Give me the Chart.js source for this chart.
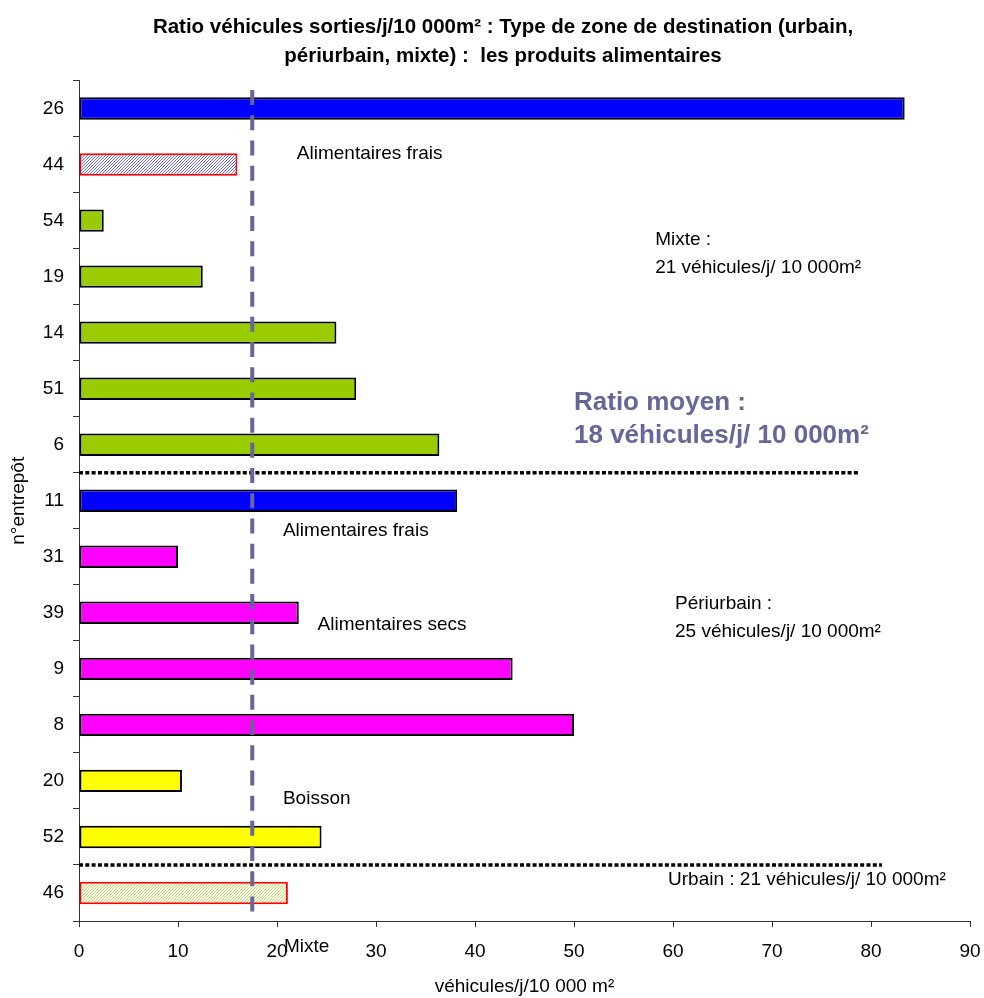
<!DOCTYPE html>
<html lang="fr">
<head>
<meta charset="utf-8">
<title>Ratio véhicules sorties/j/10 000m²</title>
<script src="https://cdn.jsdelivr.net/npm/chart.js@4"></script>
<style>
  html, body { margin: 0; padding: 0; background: #fff; }
  canvas { display: block; }
</style>
</head>
<body>
<canvas id="c" width="984" height="998"></canvas>
<script>
// Entrepôts (n°), de haut en bas
const entrepots = ['26', '44', '54', '19', '14', '51', '6', '11', '31', '39', '9', '8', '20', '52', '46'];
// Véhicules sortis par jour pour 10 000 m²
const ratios = [83.4, 16.0, 2.5, 12.5, 26.0, 28.0, 36.4, 38.2, 10.0, 22.2, 43.8, 50.0, 10.4, 24.5, 21.1];
// Famille de produits de chaque entrepôt
const familles = ['frais', 'fraisMixte', 'secs', 'secs', 'secs', 'secs', 'secs',
                  'frais', 'secsPeri', 'secsPeri', 'secsPeri', 'secsPeri',
                  'boisson', 'boisson', 'mixte'];
// Ratio moyen tous entrepôts
const ratioMoyen = 17.5;

const titre = ['Ratio véhicules sorties/j/10 000m² : Type de zone de destination (urbain,',
               'périurbain, mixte) :  les produits alimentaires'];

const ctx = document.getElementById('c').getContext('2d');
Chart.defaults.font.family = "'Liberation Sans', Arial, sans-serif";

// Hachures fines en diagonale
function hachure(trait, fond) {
  const t = document.createElement('canvas');
  t.width = t.height = 3;
  const g = t.getContext('2d');
  g.fillStyle = fond;
  g.fillRect(0, 0, 3, 3);
  g.strokeStyle = trait;
  g.lineWidth = 1;
  g.beginPath();
  g.moveTo(-1, 4); g.lineTo(4, -1);
  g.moveTo(-1, 1); g.lineTo(1, -1);
  g.moveTo(2, 4); g.lineTo(4, 2);
  g.stroke();
  return ctx.createPattern(t, 'repeat');
}

const styles = {
  frais:      { fond: '#0000FF', bord: '#000000' },
  fraisMixte: { fond: hachure('#6a6aff', '#ffffff'), bord: '#FF0000' },
  secs:       { fond: '#99CC00', bord: '#000000' },
  secsPeri:   { fond: '#FF00FF', bord: '#000000' },
  boisson:    { fond: '#FFFF00', bord: '#000000' },
  mixte:      { fond: hachure('#bddc5c', '#ffffff'), bord: '#FF0000' }
};

// Textes libres placés en unités d'axe (x) et d'indice de catégorie (y)
const notes = [
  { text: 'Alimentaires frais', x: 22.0, y: 0.81 },
  { text: 'Mixte :', x: 58.2, y: 2.35 },
  { text: '21 véhicules/j/ 10 000m²', x: 58.2, y: 2.85 },
  { text: 'Alimentaires frais', x: 20.6, y: 7.53 },
  { text: 'Périurbain :', x: 60.2, y: 8.83 },
  { text: 'Alimentaires secs', x: 24.1, y: 9.21 },
  { text: '25 véhicules/j/ 10 000m²', x: 60.2, y: 9.33 },
  { text: 'Boisson', x: 20.6, y: 12.32 },
  { text: 'Urbain : 21 véhicules/j/ 10 000m²', x: 59.5, y: 13.77 },
  { text: 'Mixte', x: 20.7, y: 14.96 }
];
const separations = [ { y: 6.5, xFin: 78.9 }, { y: 13.5, xFin: 81.1 } ];

// Titre du graphique, centré un peu à droite du milieu de la page
const enTete = {
  id: 'enTete',
  afterDraw(chart) {
    const c = chart.ctx;
    c.save();
    c.fillStyle = '#000';
    c.textAlign = 'center';
    c.textBaseline = 'middle';
    c.font = "bold 20.5px 'Liberation Sans', Arial, sans-serif";
    titre.forEach((ligne, i) => c.fillText(ligne, 503, 27 + i * 29));
    c.restore();
  }
};

const surcouche = {
  id: 'surcouche',
  afterDatasetsDraw(chart) {
    const { ctx: c, scales: { x, y } } = chart;
    c.save();

    // séparations entre zones
    c.strokeStyle = '#000';
    c.lineWidth = 3.5;
    c.setLineDash([4, 2.3]);
    separations.forEach(s => {
      const py = y.getPixelForValue(s.y);
      c.beginPath();
      c.moveTo(x.getPixelForValue(0), py);
      c.lineTo(x.getPixelForValue(s.xFin), py);
      c.stroke();
    });

    // ratio moyen
    const px = x.getPixelForValue(ratioMoyen);
    c.strokeStyle = '#666699';
    c.lineWidth = 4;
    c.setLineDash([15, 10.2]);
    c.beginPath();
    c.moveTo(px, y.getPixelForValue(-0.33));
    c.lineTo(px, y.getPixelForValue(14.5));
    c.stroke();
    c.setLineDash([]);

    // textes
    c.textAlign = 'left';
    c.textBaseline = 'middle';
    c.fillStyle = '#000';
    c.font = "19px 'Liberation Sans', Arial, sans-serif";
    notes.forEach(n => c.fillText(n.text, x.getPixelForValue(n.x), y.getPixelForValue(n.y)));

    c.fillStyle = '#666699';
    c.font = "bold 26px 'Liberation Sans', Arial, sans-serif";
    c.fillText('Ratio moyen :', x.getPixelForValue(50.0), y.getPixelForValue(5.25));
    c.fillText(Math.round(ratioMoyen) + ' véhicules/j/ 10 000m²', x.getPixelForValue(50.0), y.getPixelForValue(5.84));
    c.restore();
  }
};

new Chart(ctx, {
  type: 'bar',
  data: {
    labels: entrepots,
    datasets: [{
      data: ratios,
      backgroundColor: familles.map(f => styles[f].fond),
      borderColor: familles.map(f => styles[f].bord),
      borderWidth: 2,
      borderSkipped: false,
      barPercentage: 0.4,
      categoryPercentage: 1.0
    }]
  },
  options: {
    indexAxis: 'y',
    responsive: false,
    animation: false,
    events: [],
    layout: { padding: { left: 0, right: 14, top: 80.5, bottom: 0 } },
    plugins: {
      legend: { display: false },
      tooltip: { enabled: false },
      title: { display: false }
    },
    scales: {
      x: {
        min: 0,
        max: 90,
        ticks: { stepSize: 10, color: '#000', font: { size: 19 }, padding: 13 },
        grid: { drawOnChartArea: false, tickLength: 6, color: '#333' },
        border: { color: '#333', width: 1 },
        title: { display: true, text: 'véhicules/j/10 000 m²', color: '#000', font: { size: 19 }, padding: { top: 0, bottom: 0 } },
        afterFit(s) { s.height = 77; s.paddingLeft = 0; s.paddingRight = 0; }
      },
      y: {
        ticks: { color: '#000', font: { size: 19 }, padding: 9 },
        grid: { drawOnChartArea: false, tickLength: 6, color: '#333', offset: true },
        border: { color: '#333', width: 1 },
        title: { display: true, text: 'n°entrepôt', color: '#000', font: { size: 19 }, padding: { top: 7, bottom: 0 } },
        afterFit(s) { s.width = 79; s.paddingTop = 0; s.paddingBottom = 0; }
      }
    }
  },
  plugins: [surcouche, enTete]
});
</script>
</body>
</html>
